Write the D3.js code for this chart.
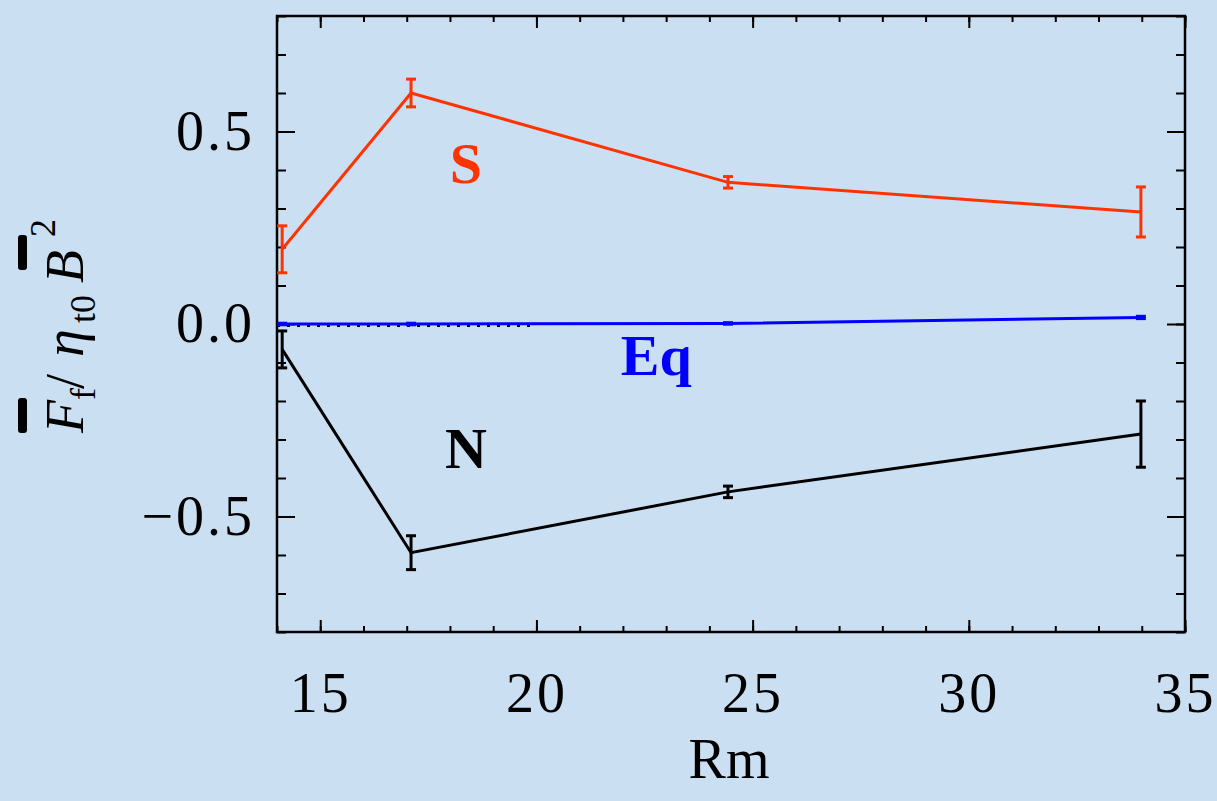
<!DOCTYPE html>
<html>
<head>
<meta charset="utf-8">
<script src="https://cdn.jsdelivr.net/npm/d3@7"></script>
<style>
  body { margin: 0; background: #cbdff3; }
  svg { display: block; }
</style>
</head>
<body>
<div id="chart"></div>
<script>
// values
var rm = [14.12, 17.1, 24.43, 33.98];
var south = [0.194, 0.600, 0.368, 0.291];
var southErr = [0.061, 0.036, 0.015, 0.065];
var equator = [0.0, 0.0, 0.0015, 0.017];
var equatorErr = [0.002, 0.002, 0.002, 0.003];
var north = [-0.066, -0.594, -0.436, -0.286];
var northErr = [0.048, 0.044, 0.015, 0.086];
var xTicks = [15, 20, 25, 30, 35];
var xMinor = d3.range(14, 36, 1);
var yTicks = [-0.5, 0, 0.5];
var yMinor = d3.range(-8, 9).map(function (d) { return d / 10; });

var width = 1217, height = 801;
var margin = { top: 16, right: 32, bottom: 169, left: 277 };
var w = width - margin.left - margin.right,
    h = height - margin.top - margin.bottom;

var svg = d3.select("#chart").append("svg")
    .attr("width", width)
    .attr("height", height)
    .style("background", "#cbdff3");

var g = svg.append("g")
    .attr("transform", "translate(" + margin.left + "," + margin.top + ")");

var x = d3.scaleLinear().domain([14, 35]).range([0, w]);
var y = d3.scaleLinear().domain([-0.8, 0.8]).range([h, 0]);

var tickFont = "'Liberation Serif', serif";

function styleAxis(sel, sw) {
    sel.select(".domain").remove();
    sel.selectAll(".tick line").attr("stroke", "#000").attr("stroke-width", sw);
    sel.selectAll(".tick text")
        .attr("fill", "#000")
        .style("font-family", tickFont)
        .style("font-size", "56px")
        .style("letter-spacing", "3px");
}

// minor ticks (inward)
g.append("g").attr("transform", "translate(0," + h + ")")
    .call(d3.axisBottom(x).tickValues(xMinor).tickSize(-6).tickFormat(""))
    .call(styleAxis, 2);
g.append("g")
    .call(d3.axisTop(x).tickValues(xMinor).tickSize(-6).tickFormat(""))
    .call(styleAxis, 2);
g.append("g")
    .call(d3.axisLeft(y).tickValues(yMinor).tickSize(-9).tickFormat(""))
    .call(styleAxis, 2);
g.append("g").attr("transform", "translate(" + w + ",0)")
    .call(d3.axisRight(y).tickValues(yMinor).tickSize(-9).tickFormat(""))
    .call(styleAxis, 2);

// major ticks
g.append("g").attr("transform", "translate(0," + h + ")")
    .call(d3.axisBottom(x).tickValues(xTicks).tickSize(-12).tickPadding(40).tickFormat(d3.format("d")))
    .call(styleAxis, 2);
g.append("g")
    .call(d3.axisTop(x).tickValues(xTicks).tickSize(-12).tickFormat(""))
    .call(styleAxis, 2);
g.append("g")
    .call(d3.axisLeft(y).tickValues(yTicks).tickSize(-18).tickPadding(22).tickFormat(d3.format(".1f")))
    .call(styleAxis, 2);
g.append("g").attr("transform", "translate(" + w + ",0)")
    .call(d3.axisRight(y).tickValues(yTicks).tickSize(-18).tickFormat(""))
    .call(styleAxis, 2);

// frame
g.append("rect")
    .attr("width", w).attr("height", h)
    .attr("fill", "none").attr("stroke", "#000").attr("stroke-width", 2.5);

// dotted zero line on the left
g.append("line")
    .attr("x1", x(14)).attr("x2", x(19.9))
    .attr("y1", y(0) + 1.5).attr("y2", y(0) + 1.5)
    .attr("stroke", "#000").attr("stroke-width", 3)
    .attr("stroke-dasharray", "3,7");

function series(vals, errs, color) {
    var pts = rm.map(function (r, i) { return { r: r, v: vals[i], e: errs[i] }; });
    var line = d3.line().x(function (d) { return x(d.r); }).y(function (d) { return y(d.v); });
    g.append("path").datum(pts)
        .attr("fill", "none").attr("stroke", color).attr("stroke-width", 3)
        .attr("d", line);
    var eb = g.append("g").attr("stroke", color).attr("stroke-width", 3);
    pts.forEach(function (d) {
        var cx = x(d.r);
        eb.append("line").attr("x1", cx).attr("x2", cx).attr("y1", y(d.v - d.e)).attr("y2", y(d.v + d.e));
        eb.append("line").attr("x1", cx - 5).attr("x2", cx + 5).attr("y1", y(d.v - d.e)).attr("y2", y(d.v - d.e));
        eb.append("line").attr("x1", cx - 5).attr("x2", cx + 5).attr("y1", y(d.v + d.e)).attr("y2", y(d.v + d.e));
    });
}

series(south, southErr, "#ff3300");
series(north, northErr, "#000000");
series(equator, equatorErr, "#0000ff");

// curve labels
var labels = [
    { text: "S", r: 18.37, v: 0.366, color: "#ff3300" },
    { text: "Eq", r: 22.77, v: -0.132, color: "#0000ff" },
    { text: "N", r: 18.37, v: -0.374, color: "#000000" }
];
g.selectAll(".lab").data(labels).enter().append("text")
    .attr("class", "lab")
    .attr("x", function (d) { return x(d.r); })
    .attr("y", function (d) { return y(d.v); })
    .attr("text-anchor", "middle")
    .attr("fill", function (d) { return d.color; })
    .style("font-family", tickFont)
    .style("font-weight", "bold")
    .style("font-size", "58px")
    .text(function (d) { return d.text; });

// x title
svg.append("text")
    .attr("x", margin.left + w / 2 - 2)
    .attr("y", 778)
    .attr("text-anchor", "middle")
    .style("font-family", tickFont)
    .style("font-size", "56px")
    .text("Rm");

// y title: F_f / eta_t0 B^2 with bars
var yl = svg.append("g").attr("transform", "translate(83,433) rotate(-90)");
var parts = [
    { s: "F", u: 0, v: 0, it: true, size: 54 },
    { s: "f", u: 33, v: 12, it: false, size: 36 },
    { s: "/", u: 44, v: 0, it: false, size: 54 },
    { s: "η", u: 76, v: 0, it: true, size: 56 },
    { s: "t0", u: 110, v: 12, it: false, size: 36 },
    { s: "B", u: 150, v: 0, it: true, size: 54 },
    { s: "2", u: 196, v: -28, it: false, size: 36 }
];
var yt = yl.append("text").style("font-family", tickFont).attr("fill", "#000");
parts.forEach(function (p) {
    yt.append("tspan")
        .attr("x", p.u).attr("y", p.v)
        .style("font-style", p.it ? "italic" : "normal")
        .style("font-size", p.size + "px")
        .text(p.s);
});
// overbars above F and B
[[0, 35], [163, 35]].forEach(function (b) {
    yl.append("rect")
        .attr("x", b[0]).attr("y", -65)
        .attr("width", b[1]).attr("height", 9)
        .attr("rx", 3)
        .attr("fill", "#000");
});
</script>
</body>
</html>
